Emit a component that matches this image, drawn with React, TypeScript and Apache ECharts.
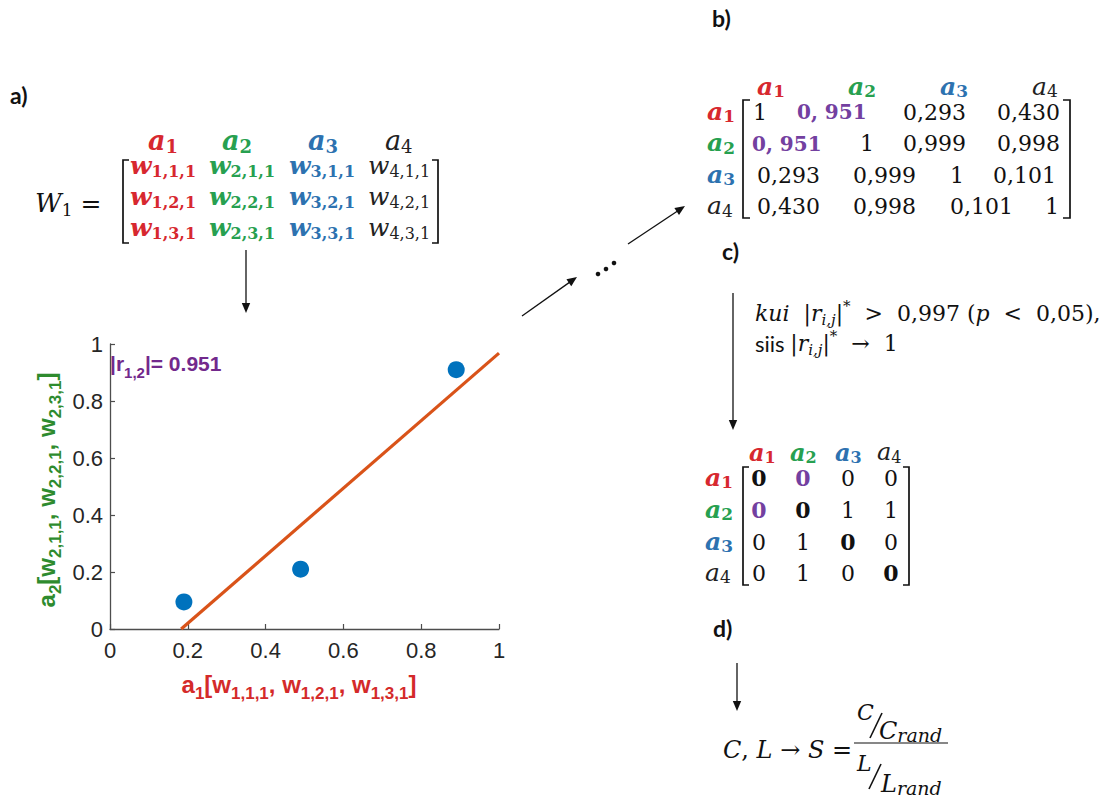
import React, { useEffect, useRef } from "react";
import * as echarts from "echarts";

// ---------------- data ----------------
const scatterX = [0.19, 0.49, 0.89];
const scatterY = [0.095, 0.21, 0.91];
const fitX = [0.183, 1.0];
const fitY = [0.0, 0.968];
const axisMin = 0;
const axisMax = 1;
const axisStep = 0.2;
const corrText = "0.951";

const nodeIdx = ["1", "2", "3", "4"];
const weightSub = [
  ["1,1,1", "2,1,1", "3,1,1", "4,1,1"],
  ["1,2,1", "2,2,1", "3,2,1", "4,2,1"],
  ["1,3,1", "2,3,1", "3,3,1", "4,3,1"],
];
const xNameSubs = ["1", "1,1,1", "1,2,1", "1,3,1"];
const yNameSubs = ["2", "2,1,1", "2,2,1", "2,3,1"];
const corrMatrix = [
  ["1", "0, 951", "0,293", "0,430"],
  ["0, 951", "1", "0,999", "0,998"],
  ["0,293", "0,999", "1", "0,101"],
  ["0,430", "0,998", "0,101", "1"],
];
const adjMatrix = [
  ["0", "0", "0", "0"],
  ["0", "0", "1", "1"],
  ["0", "1", "0", "0"],
  ["0", "1", "0", "0"],
];
const highlightCells = ["0-1", "1-0"];
const thresholdText = "0,997";
const pText = "0,05";

// ---------------- layout / style ----------------
const SERIF = '"DejaVu Serif", "Liberation Serif", serif';
const SANS = '"Liberation Sans", Arial, sans-serif';
const LBL = 'Lato, "Open Sans", sans-serif';
const NODE_COLORS = ["#D7282F", "#27A050", "#2D72B0", "#222222"];
const NODE_BOLD = [true, true, true, false];
const PURPLE = "#7340A0";
const INK = "#111111";

function ms(size: number, color: string, bold: boolean, italic: boolean, lh: number, extra: any = {}) {
  return {
    fontFamily: SERIF,
    fontSize: size,
    fill: color,
    color,
    fontWeight: bold ? "bold" : "normal",
    fontStyle: italic ? "italic" : "normal",
    lineHeight: lh,
    ...extra,
  };
}

function txt(x: number, y: number, text: string, rich: any, align = "left", extra: any = {}) {
  return {
    type: "text",
    x,
    y,
    silent: true,
    ...extra,
    style: { text, rich, align, verticalAlign: "middle", fill: INK, fontSize: 14 },
  };
}

function plain(x: number, y: number, text: string, font: any, align = "left") {
  return {
    type: "text",
    x,
    y,
    silent: true,
    style: { text, align, verticalAlign: "middle", fill: INK, ...font },
  };
}

function sym(x: number, y: number, i: number, size: number, sub: number, drop: number, align = "left") {
  const c = NODE_COLORS[i];
  const b = NODE_BOLD[i];
  const lh = size + 12;
  return txt(x, y, `{m|a}{s|${nodeIdx[i]}}`, {
    m: ms(size, c, b, true, lh),
    s: ms(sub, c, b, false, lh, { padding: [drop * 2, 0, 0, 0] }),
  }, align);
}

function arrow(x1: number, y1: number, x2: number, y2: number, head = 10, half = 4.2) {
  const dx = x2 - x1;
  const dy = y2 - y1;
  const L = Math.hypot(dx, dy);
  const ux = dx / L;
  const uy = dy / L;
  const bx = x2 - ux * head;
  const by = y2 - uy * head;
  return [
    { type: "line", silent: true, shape: { x1, y1, x2: bx + ux * 2, y2: by + uy * 2 }, style: { stroke: INK, lineWidth: 1.3 } },
    {
      type: "polygon",
      silent: true,
      shape: { points: [[x2, y2], [bx - uy * half, by + ux * half], [bx + uy * half, by - ux * half]] },
      style: { fill: INK },
    },
  ];
}

function bracket(x: number, y1: number, y2: number, dir: number, arm = 6) {
  return {
    type: "polyline",
    silent: true,
    shape: { points: [[x + dir * arm, y1], [x, y1], [x, y2], [x + dir * arm, y2]] },
    style: { stroke: INK, lineWidth: 1.7, fill: null },
  };
}

function buildGraphics() {
  const els: any[] = [];
  const panelFont = { fontFamily: LBL, fontWeight: "bold", fontSize: 23 };

  // ---- a) ----
  els.push(plain(10, 95, "a)", panelFont));
  els.push(txt(35, 203, "{W|W}{s|1}{e| =}", {
    W: ms(26, INK, false, true, 36),
    s: ms(17, INK, false, false, 36, { padding: [14, 0, 0, 0] }),
    e: ms(25, INK, false, false, 36),
  }));
  const wHeadX = [148, 222, 308, 385];
  wHeadX.forEach((x, i) => els.push(sym(x, 140, i, 27, 18, 6)));
  const wCellX = [130, 209, 289, 368];
  const wRowY = [165, 196, 227];
  weightSub.forEach((row, r) =>
    row.forEach((sub, c) => {
      const col = NODE_COLORS[c];
      const b = NODE_BOLD[c];
      els.push(txt(wCellX[c], wRowY[r], `{m|w}{s|${sub}}`, {
        m: ms(25, col, b, true, 34),
        s: ms(16, col, b, false, 34, { padding: [12, 0, 0, 0] }),
      }));
    })
  );
  els.push(bracket(123, 160, 243, 1));
  els.push(bracket(438, 160, 243, -1));
  els.push(...arrow(246, 250, 246, 313));

  // scatter annotations
  els.push(txt(110, 363, `{m||r}{s|1,2}{m||= ${corrText}}`, {
    m: { fontFamily: SANS, fontWeight: "bold", fontSize: 21, fill: "#72298C", lineHeight: 30 },
    s: { fontFamily: SANS, fontWeight: "bold", fontSize: 15, fill: "#72298C", lineHeight: 30, padding: [18, 0, 0, 0] },
  }));
  const nameRich = (color: string) => ({
    m: { fontFamily: SANS, fontWeight: "bold", fontSize: 24, fill: color, lineHeight: 34 },
    s: { fontFamily: SANS, fontWeight: "bold", fontSize: 17, fill: color, lineHeight: 34, padding: [18, 0, 0, 0] },
  });
  const nameText = (subs: string[]) =>
    `{m|a}{s|${subs[0]}}{m|[w}{s|${subs[1]}}{m|, w}{s|${subs[2]}}{m|, w}{s|${subs[3]}}{m|]}`;
  els.push(txt(299, 684, nameText(xNameSubs), nameRich("#D42A2A"), "center"));
  els.push(txt(46, 490, nameText(yNameSubs), nameRich("#2E8B2E"), "center", { rotation: Math.PI / 2 }));

  // ---- b) ----
  els.push(plain(712, 18, "b)", panelFont));
  const bHeadX = [757, 848, 940, 1032];
  bHeadX.forEach((x, i) => els.push(sym(x, 86, i, 25, 17, 5)));
  const bRowY = [112, 143.5, 175, 206.5];
  bRowY.forEach((y, i) => els.push(sym(707, y - 1, i, 25, 17, 5)));
  const bCellX = [
    [753, 797, 903, 997],
    [752, 860, 903, 997],
    [757, 853, 950, 993],
    [757, 853, 950, 1045],
  ];
  corrMatrix.forEach((row, r) =>
    row.forEach((v, c) => {
      const hl = highlightCells.includes(`${r}-${c}`);
      els.push(plain(bCellX[r][c], bRowY[r], v, hl
        ? { fontFamily: SERIF, fontSize: 20, fontWeight: "bold", fill: PURPLE }
        : { fontFamily: SERIF, fontSize: 22, fill: INK }));
    })
  );
  els.push(bracket(743, 100, 218, 1, 7));
  els.push(bracket(1070, 100, 218, -1, 7));

  // connecting arrows
  els.push(...arrow(522, 316, 577, 277));
  [[598, 274], [606, 269], [614, 263]].forEach(([cx, cy]) =>
    els.push({ type: "circle", silent: true, shape: { cx, cy, r: 2.3 }, style: { fill: INK } })
  );
  els.push(...arrow(628, 244, 685, 206));

  // ---- c) ----
  els.push(plain(722, 251, "c)", panelFont));
  els.push(...arrow(733, 293, 733, 430));
  const cRich = {
    i: ms(22, INK, false, true, 30),
    n: ms(22, INK, false, false, 30),
    si: ms(15, INK, false, true, 30, { padding: [13, 0, 0, 0] }),
    sp: ms(15, INK, false, false, 30, { padding: [0, 0, 14, 0] }),
    sa: { fontFamily: LBL, fontSize: 22, fill: INK, lineHeight: 30 },
  };
  els.push(txt(755, 313,
    `{i|kui}{n|  |}{i|r}{si|i,j}{n||}{sp|*}{n|  >  ${thresholdText} (}{i|p}{n|  <  ${pText}),}`, cRich));
  els.push(txt(755, 343, `{sa|siis }{n||}{i|r}{si|i,j}{n||}{sp|*}{n|  →  1}`, cRich));

  const cHeadX = [749, 790, 835, 877];
  cHeadX.forEach((x, i) => els.push(sym(x, 452, i, 24, 16, 5)));
  const cRowY = [478, 510, 542, 573];
  cRowY.forEach((y, i) => els.push(sym(705, y - 1, i, 25, 17, 5)));
  const cCellX = [759, 803, 848, 891];
  adjMatrix.forEach((row, r) =>
    row.forEach((v, c) => {
      const hl = highlightCells.includes(`${r}-${c}`);
      const diag = r === c;
      els.push(plain(cCellX[c], cRowY[r], v, {
        fontFamily: SERIF,
        fontSize: 22,
        fontWeight: hl || diag ? "bold" : "normal",
        fill: hl ? PURPLE : INK,
      }, "center"));
    })
  );
  els.push(bracket(743, 467, 585, 1, 6));
  els.push(bracket(909, 467, 585, -1, 6));

  // ---- d) ----
  els.push(plain(713, 628, "d)", panelFont));
  els.push(...arrow(737, 663, 737, 711));
  const dRich = {
    i: ms(24, INK, false, true, 30),
    n: ms(24, INK, false, false, 30),
  };
  const fRich = {
    i: ms(24, INK, false, true, 22),
    si: ms(19, INK, false, true, 22, { padding: [8, 0, 0, 0] }),
    sm: ms(22, INK, false, true, 22),
  };
  els.push(txt(723, 750, "{i|C}{n|, }{i|L}{n| → }{i|S}{n| =}", dRich));
  els.push({ type: "line", silent: true, shape: { x1: 854, y1: 743, x2: 948, y2: 743 }, style: { stroke: INK, lineWidth: 1.2 } });
  els.push(txt(857, 712, "{sm|C}", fRich));
  els.push({ type: "line", silent: true, shape: { x1: 870, y1: 738, x2: 882, y2: 713 }, style: { stroke: INK, lineWidth: 1.6 } });
  els.push(txt(879, 731, "{i|C}{si|rand}", fRich));
  els.push(txt(857, 763, "{sm|L}", fRich));
  els.push({ type: "line", silent: true, shape: { x1: 869, y1: 789, x2: 881, y2: 764 }, style: { stroke: INK, lineWidth: 1.6 } });
  els.push(txt(881, 784, "{i|L}{si|rand}", fRich));

  return els;
}

export default function App() {
  const ref = useRef<HTMLDivElement>(null);
  useEffect(() => {
    if (!ref.current) return;
    const chart = echarts.init(ref.current, undefined, { renderer: "svg" });
    const axisCommon = {
      type: "value",
      min: axisMin,
      max: axisMax,
      interval: axisStep,
      axisLine: { show: true, onZero: false, lineStyle: { color: "#4d4d4d", width: 1.3 } },
      axisTick: { show: true, inside: true, length: 5, lineStyle: { color: "#4d4d4d", width: 1.2 } },
      splitLine: { show: false },
    };
    chart.setOption({
      animation: false,
      backgroundColor: "#ffffff",
      grid: { left: 110, top: 344, width: 389, height: 285, containLabel: false },
      xAxis: {
        ...axisCommon,
        axisLabel: { color: "#262626", fontSize: 22, fontFamily: SANS, margin: 10, showMinLabel: true, showMaxLabel: true },
      },
      yAxis: {
        ...axisCommon,
        axisLabel: { color: "#262626", fontSize: 22, fontFamily: SANS, margin: 7, showMinLabel: true, showMaxLabel: true },
      },
      series: [
        {
          type: "line",
          data: fitX.map((x, i) => [x, fitY[i]]),
          showSymbol: false,
          lineStyle: { color: "#D95319", width: 3.2 },
          z: 2,
        },
        {
          type: "scatter",
          data: scatterX.map((x, i) => [x, scatterY[i]]),
          symbolSize: 17,
          itemStyle: { color: "#0072BD", opacity: 1 },
          z: 3,
        },
      ],
      graphic: { elements: buildGraphics() },
    });
    return () => chart.dispose();
  }, []);
  return <div ref={ref} style={{ position: "fixed", left: 0, top: 0, width: 1110, height: 798 }} />;
}
